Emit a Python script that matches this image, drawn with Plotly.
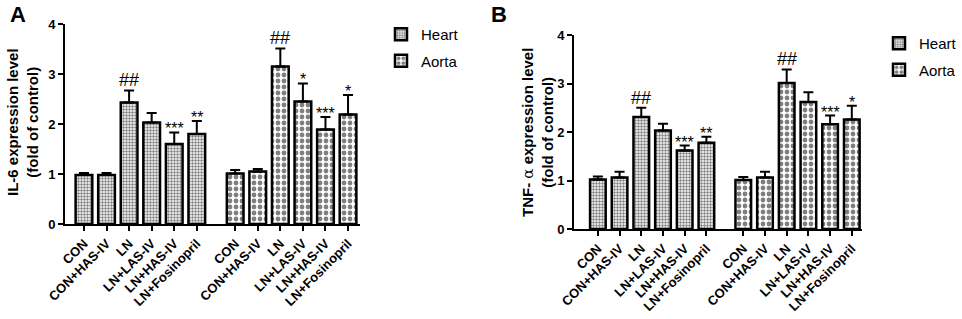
import plotly.graph_objects as go

categories = ["CON", "CON+HAS-IV", "LN", "LN+LAS-IV", "LN+HAS-IV", "LN+Fosinopril"]
groups = ["Heart", "Aorta"]

# Panel A: IL-6
il6_heart = [0.98, 0.98, 2.43, 2.03, 1.60, 1.80]
il6_heart_err = [0.04, 0.04, 0.24, 0.19, 0.23, 0.26]
il6_aorta = [1.01, 1.05, 3.15, 2.45, 1.89, 2.19]
il6_aorta_err = [0.07, 0.05, 0.36, 0.36, 0.25, 0.39]
il6_heart_sig = ["", "", "##", "", "***", "**"]
il6_aorta_sig = ["", "", "##", "*", "***", "*"]

# Panel B: TNF-alpha
tnf_heart = [1.02, 1.06, 2.31, 2.03, 1.62, 1.78]
tnf_heart_err = [0.06, 0.12, 0.19, 0.14, 0.10, 0.12]
tnf_aorta = [1.01, 1.06, 3.01, 2.62, 2.16, 2.26]
tnf_aorta_err = [0.06, 0.12, 0.28, 0.20, 0.18, 0.28]
tnf_heart_sig = ["", "", "##", "", "***", "**"]
tnf_aorta_sig = ["", "", "##", "", "***", "*"]

GAP = 1.7
FONT = "Liberation Sans, Arial, sans-serif"
n = len(categories)
pos_heart = [i for i in range(n)]
pos_aorta = [i + n - 1 + GAP for i in range(n)]

W, H = 962, 319


def px(x):
    return x / W


def py(y):
    return 1 - y / H


patterns = {
    "Heart": dict(shape=".", size=3, solidity=0.5, fgcolor="black", bgcolor="white"),
    "Aorta": dict(shape=".", size=6, solidity=0.5, fgcolor="black", bgcolor="white"),
}

fig = go.Figure()

panels = [
    dict(key="A", x="x", y="y", legend="legend",
         data=[(il6_heart, il6_heart_err, il6_heart_sig), (il6_aorta, il6_aorta_err, il6_aorta_sig)],
         xdom=[px(65), px(360)], ydom=[py(224), py(24)],
         xrange=[-0.84, 12.23], width=0.74),
    dict(key="B", x="x2", y="y2", legend="legend2",
         data=[(tnf_heart, tnf_heart_err, tnf_heart_sig), (tnf_aorta, tnf_aorta_err, tnf_aorta_sig)],
         xdom=[px(574), px(862)], ydom=[py(229), py(35)],
         xrange=[-1.1, 12.17], width=0.72),
]

for p in panels:
    for g, (vals, errs, sigs), pos in zip(groups, p["data"], [pos_heart, pos_aorta]):
        fig.add_trace(go.Bar(
            x=pos, y=vals, name=g, xaxis=p["x"], yaxis=p["y"], legend=p["legend"],
            legendgroup=p["key"] + g, width=p["width"],
            marker=dict(color="white", line=dict(color="black", width=2.5), pattern=patterns[g]),
            error_y=dict(type="data", symmetric=False, array=errs, arrayminus=[0]*n,
                         color="black", thickness=2, width=5),
        ))
        for xv, v, e, s in zip(pos, vals, errs, sigs):
            if s:
                fig.add_annotation(x=xv, y=v + e, xref=p["x"], yref=p["y"], text=s,
                                   showarrow=False, xanchor="center", yanchor="bottom",
                                   yshift=-2 if "#" in s else -7,
                                   font=dict(family=FONT, size=18 if "#" in s else 16, color="black"))

tickvals = pos_heart + pos_aorta
ticktext = categories + categories

axis_common = dict(showline=True, linecolor="black", linewidth=2, ticks="outside",
                   tickcolor="black", tickwidth=2, ticklen=5, showgrid=False, zeroline=False,
                   automargin=False,
                   tickfont=dict(family=FONT, size=13, color="black", weight="bold"))

layout = dict(
    width=W, height=H, margin=dict(l=0, r=0, t=0, b=0),
    plot_bgcolor="white", paper_bgcolor="white", barmode="overlay", showlegend=True,
)
for i, p in enumerate(panels):
    sx = "" if i == 0 else "2"
    layout["xaxis" + sx] = dict(axis_common, domain=p["xdom"], range=p["xrange"], anchor="y" + sx,
                                tickvals=tickvals, ticktext=ticktext, tickangle=-45)
    layout["yaxis" + sx] = dict(axis_common, domain=p["ydom"], range=[0, 4], anchor="x" + sx,
                                tickvals=[0, 1, 2, 3, 4])

leg_common = dict(font=dict(family=FONT, size=15, color="black"), bgcolor="rgba(0,0,0,0)",
                  yanchor="top", itemclick=False, tracegroupgap=4)
layout["legend"] = dict(leg_common, x=px(381), xanchor="left", y=py(18))
layout["legend2"] = dict(leg_common, x=1.0, xanchor="right", y=py(27))

fig.update_layout(**layout)

fig.add_annotation(x=px(8), y=py(0), xref="paper", yref="paper", text="<b>A</b>", showarrow=False,
                   xanchor="left", yanchor="top", font=dict(family=FONT, size=22, color="black"))
fig.add_annotation(x=px(489), y=py(0), xref="paper", yref="paper", text="<b>B</b>", showarrow=False,
                   xanchor="left", yanchor="top", font=dict(family=FONT, size=22, color="black"))
fig.add_annotation(x=px(22), y=py(122), xref="paper", yref="paper", xanchor="center", yanchor="middle",
                   text="<b>IL-6 expression level</b><br><b>(fold of control)</b>", showarrow=False,
                   textangle=-90, font=dict(family=FONT, size=15, color="black"))
fig.add_annotation(x=px(537), y=py(133), xref="paper", yref="paper", xanchor="center", yanchor="middle",
                   text="<b>TNF- </b><span style='font-family:DejaVu Serif'>α</span><b> expression level</b><br><b>(fold of control)</b>",
                   showarrow=False, textangle=-90, font=dict(family=FONT, size=15, color="black"))

fig.write_html("out.html", config={"displayModeBar": False},
               post_script="document.body.style.margin='0px';")
